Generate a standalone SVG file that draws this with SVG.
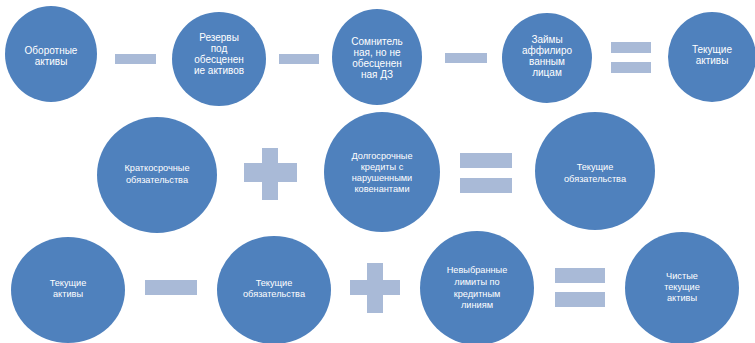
<svg xmlns="http://www.w3.org/2000/svg" width="755" height="343" viewBox="0 0 755 343">
<style>
.n{fill:#4F81BD}
.op{fill:#A9BAD7}
text{font-family:"Liberation Sans",Arial,sans-serif;fill:#FFFFFF;text-anchor:middle}
.t1{font-size:10px}
.t2{font-size:9.2px}
</style>
<rect width="755" height="343" fill="#FFFFFF"/>
<g id="operators">
<rect class="op" x="115" y="54" width="41" height="10"/>
<rect class="op" x="279" y="54" width="40" height="10"/>
<rect class="op" x="445" y="53" width="42" height="10"/>
<rect class="op" x="611" y="42" width="40" height="11"/>
<rect class="op" x="611" y="62" width="40" height="11"/>
<rect class="op" x="244" y="163" width="53" height="19"/>
<rect class="op" x="262" y="148" width="16" height="52"/>
<rect class="op" x="460" y="153" width="52" height="15"/>
<rect class="op" x="460" y="178" width="52" height="15"/>
<rect class="op" x="145" y="280" width="52" height="15"/>
<rect class="op" x="350" y="280" width="50" height="15"/>
<rect class="op" x="367" y="263" width="16" height="50"/>
<rect class="op" x="555" y="268" width="50" height="15"/>
<rect class="op" x="555" y="292" width="50" height="15"/>
</g>
<g id="n1"><ellipse class="n" cx="51" cy="54" rx="46" ry="48"/>
<text class="t1" x="51" y="54">Оборотные</text><text class="t1" x="51" y="65">активы</text></g>
<g id="n2"><ellipse class="n" cx="219" cy="59" rx="47" ry="47"/>
<text class="t1" x="219" y="41">Резервы</text><text class="t1" x="219" y="52">под</text><text class="t1" x="219" y="63">обесценен</text><text class="t1" x="219" y="74">ие активов</text></g>
<g id="n3"><ellipse class="n" cx="377" cy="57" rx="45" ry="48"/>
<text class="t1" x="377" y="45">Сомнитель</text><text class="t1" x="377" y="56">ная, но не</text><text class="t1" x="377" y="67">обесценен</text><text class="t1" x="377" y="78">ная ДЗ</text></g>
<g id="n4"><ellipse class="n" cx="547" cy="58" rx="45" ry="45"/>
<text class="t1" x="547" y="43">Займы</text><text class="t1" x="547" y="54">аффилиро</text><text class="t1" x="547" y="65">ванным</text><text class="t1" x="547" y="76">лицам</text></g>
<g id="n5"><ellipse class="n" cx="712" cy="57" rx="44" ry="45"/>
<text class="t1" x="712" y="53">Текущие</text><text class="t1" x="712" y="64">активы</text></g>
<g id="n6"><ellipse class="n" cx="157" cy="175" rx="60" ry="58"/>
<text class="t2" x="157" y="171">Краткосрочные</text><text class="t2" x="157" y="183">обязательства</text></g>
<g id="n7"><ellipse class="n" cx="382" cy="172" rx="58" ry="60"/>
<text class="t2" x="382" y="159">Долгосрочные</text><text class="t2" x="382" y="170">кредиты  с</text><text class="t2" x="382" y="181">нарушенными</text><text class="t2" x="382" y="192">ковенантами</text></g>
<g id="n8"><ellipse class="n" cx="595" cy="171" rx="60" ry="59"/>
<text class="t2" x="595" y="170">Текущие</text><text class="t2" x="595" y="182">обязательства</text></g>
<g id="n9"><ellipse class="n" cx="68" cy="290" rx="57" ry="53"/>
<text class="t2" x="68" y="286">Текущие</text><text class="t2" x="68" y="297">активы</text></g>
<g id="n10"><ellipse class="n" cx="274" cy="290" rx="57" ry="54"/>
<text class="t2" x="274" y="286">Текущие</text><text class="t2" x="274" y="297">обязательства</text></g>
<g id="n11"><ellipse class="n" cx="477" cy="288" rx="57" ry="57"/>
<text class="t2" x="477" y="273">Невыбранные</text><text class="t2" x="477" y="285">лимиты по</text><text class="t2" x="477" y="297">кредитным</text><text class="t2" x="477" y="308">линиям</text></g>
<g id="n12"><ellipse class="n" cx="682" cy="288" rx="57" ry="56"/>
<text class="t2" x="682" y="279">Чистые</text><text class="t2" x="682" y="290">текущие</text><text class="t2" x="682" y="301">активы</text></g>
</svg>
